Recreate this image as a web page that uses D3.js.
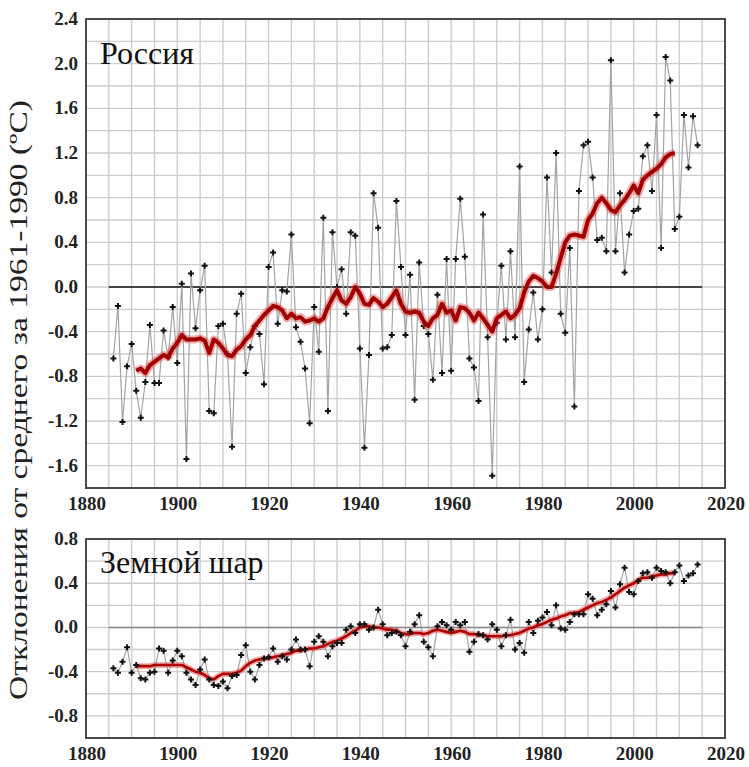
<!DOCTYPE html>
<html>
<head>
<meta charset="utf-8">
<script src="https://cdn.jsdelivr.net/npm/d3@7"></script>
<style>
  body { margin: 0; background: #fff; }
  svg { display: block; }
  .serif { font-family: "Liberation Serif", "Times New Roman", Times, "DejaVu Serif", serif; }
</style>
</head>
<body>
<div id="chart"></div>
<script>
// Годовые аномалии температуры, Россия, 1886-2014
const russiaStart = 1886;
const russiaValues = [
  -0.64, -0.17, -1.21, -0.71, -0.51, -0.93, -1.17, -0.85, -0.34, -0.86,
  -0.86, -0.39, -0.63, -0.18, -0.68, 0.03, -1.54, 0.12, -0.37, -0.03,
  0.19, -1.11, -1.13, -0.35, -0.33, -0.60, -1.43, -0.24, -0.06, -0.77,
  -0.54, -0.35, -0.42, -0.87, 0.18, 0.31, -0.33, -0.03, -0.04, 0.47,
  -0.36, -0.49, -0.73, -1.22, -0.18, -0.58, 0.62, -1.11, 0.49, 0.00,
  0.16, -0.24, 0.49, 0.46, -0.55, -1.44, -0.61, 0.84, 0.53, -0.55,
  -0.54, -0.43, 0.77, 0.18, -0.43, 0.11, -1.01, 0.22, -0.35, -0.42,
  -0.83, -0.07, -0.77, 0.25, -0.75, 0.25, 0.79, 0.27, -0.64, -0.72,
  -1.02, 0.65, -0.45, -1.69, -0.32, 0.19, -0.47, 0.32, -0.45, 1.08,
  -0.85, -0.38, -0.05, -0.47, -0.20, 0.98, 0.13, 1.20, -0.24, -0.41,
  0.35, -1.07, 0.86, 1.27, 1.30, 0.98, 0.42, 0.44, 0.32, 2.03,
  0.32, 0.84, 0.13, 0.47, 0.68, 0.70, 1.17, 1.27, 0.86, 1.54,
  0.35, 2.06, 1.85, 0.52, 0.63, 1.54, 1.07, 1.53, 1.27
];

// Сглаженная кривая, Россия, 1891-2009
const russiaSmoothStart = 1891;
const russiaSmooth = [
  -0.75, -0.73, -0.77, -0.70, -0.67, -0.64, -0.61, -0.63, -0.55, -0.50,
  -0.43, -0.47, -0.47, -0.47, -0.46, -0.48, -0.59, -0.47, -0.50, -0.55,
  -0.61, -0.62, -0.56, -0.53, -0.47, -0.43, -0.35, -0.30, -0.25, -0.21,
  -0.17, -0.18, -0.21, -0.28, -0.24, -0.28, -0.27, -0.31, -0.30, -0.28,
  -0.31, -0.28, -0.18, -0.10, -0.03, -0.12, -0.15, -0.09, 0.00, -0.06,
  -0.15, -0.16, -0.10, -0.13, -0.18, -0.15, -0.09, -0.03, -0.15, -0.22,
  -0.23, -0.22, -0.23, -0.31, -0.35, -0.28, -0.25, -0.15, -0.23, -0.21,
  -0.30, -0.18, -0.19, -0.23, -0.30, -0.23, -0.28, -0.34, -0.40, -0.28,
  -0.25, -0.22, -0.28, -0.25, -0.19, -0.05, 0.05, 0.10, 0.08, 0.05,
  0.00, 0.00, 0.12, 0.26, 0.40, 0.46, 0.47, 0.46, 0.45, 0.60,
  0.66, 0.75, 0.80, 0.75, 0.69, 0.67, 0.73, 0.78, 0.84, 0.91,
  0.84, 0.96, 1.00, 1.03, 1.06, 1.10, 1.16, 1.19, 1.20
];

// Годовые аномалии, земной шар, 1886-2014
const globeStart = 1886;
const globeValues = [
  -0.37, -0.41, -0.31, -0.18, -0.41, -0.34, -0.46, -0.47, -0.41, -0.40,
  -0.19, -0.21, -0.41, -0.30, -0.21, -0.26, -0.41, -0.47, -0.52, -0.38,
  -0.29, -0.47, -0.52, -0.53, -0.49, -0.55, -0.44, -0.43, -0.25, -0.16,
  -0.40, -0.47, -0.34, -0.28, -0.27, -0.19, -0.31, -0.26, -0.29, -0.20,
  -0.11, -0.20, -0.20, -0.35, -0.13, -0.08, -0.13, -0.26, -0.17, -0.14,
  -0.14, -0.02, 0.01, -0.05, 0.03, 0.03, -0.02, 0.00, 0.16, 0.03,
  -0.07, -0.05, -0.04, -0.07, -0.17, -0.04, 0.03, 0.11, -0.13, -0.18,
  -0.26, 0.01, 0.05, 0.02, -0.02, 0.05, 0.02, 0.05, -0.22, -0.13,
  -0.06, -0.07, -0.11, 0.03, -0.02, -0.17, -0.07, 0.07, -0.20, -0.14,
  -0.23, 0.05, -0.05, 0.06, 0.09, 0.14, 0.02, 0.20, -0.01, -0.02,
  0.05, 0.12, 0.12, 0.12, 0.30, 0.26, 0.11, 0.16, 0.21, 0.33,
  0.18, 0.39, 0.54, 0.32, 0.30, 0.42, 0.49, 0.50, 0.45, 0.54,
  0.51, 0.50, 0.40, 0.50, 0.56, 0.42, 0.47, 0.49, 0.57
];

// Сглаженная кривая, земной шар, 1891-2009
const globeSmoothStart = 1891;
const globeSmooth = [
  -0.35, -0.35, -0.35, -0.35, -0.34, -0.34, -0.34, -0.34, -0.34, -0.34,
  -0.34, -0.36, -0.38, -0.40, -0.41, -0.43, -0.46, -0.47, -0.44, -0.42,
  -0.42, -0.42, -0.41, -0.39, -0.35, -0.32, -0.30, -0.29, -0.28, -0.28,
  -0.27, -0.26, -0.25, -0.24, -0.23, -0.21, -0.21, -0.20, -0.19, -0.19,
  -0.18, -0.17, -0.15, -0.13, -0.12, -0.10, -0.08, -0.05, -0.03, 0.00,
  0.01, 0.01, 0.00, 0.00, -0.01, -0.02, -0.02, -0.03, -0.05, -0.06,
  -0.06, -0.05, -0.05, -0.06, -0.05, -0.03, -0.02, -0.03, -0.04, -0.05,
  -0.04, -0.03, -0.04, -0.06, -0.06, -0.07, -0.07, -0.08, -0.08, -0.08,
  -0.08, -0.07, -0.07, -0.06, -0.05, -0.03, -0.01, 0.00, 0.02, 0.03,
  0.05, 0.07, 0.08, 0.10, 0.11, 0.13, 0.13, 0.14, 0.16, 0.18,
  0.20, 0.22, 0.23, 0.25, 0.27, 0.30, 0.33, 0.36, 0.38, 0.40,
  0.43, 0.45, 0.45, 0.46, 0.47, 0.48, 0.48, 0.49, 0.49
];

const xTicks = [1880, 1900, 1920, 1940, 1960, 1980, 2000, 2020];
const russiaTicks = [-1.6, -1.2, -0.8, -0.4, 0.0, 0.4, 0.8, 1.2, 1.6, 2.0, 2.4];
const globeTicks = [-0.8, -0.4, 0.0, 0.4, 0.8];

const toPoints = (start, values) => values.map((v, i) => ({ year: start + i, value: v }));

const width = 749, height = 767;
const svg = d3.select("#chart").append("svg")
  .attr("width", width)
  .attr("height", height);

const marker = d3.symbol(d3.symbolCross, 20);

const drawPanel = (opts) => {
  const x = d3.scaleLinear().domain([1880, 2020]).range([86, 725]);
  const y = d3.scaleLinear().domain(opts.domain).range([opts.bottom, opts.top]);
  const g = svg.append("g");

  // сетка
  g.selectAll(".vgrid")
    .data(d3.range(1885, 2020, 5))
    .join("line")
    .attr("x1", d => x(d)).attr("x2", d => x(d))
    .attr("y1", opts.top).attr("y2", opts.bottom)
    .attr("stroke", "#cdcdcd").attr("stroke-width", 1.4);

  g.selectAll(".hgrid")
    .data(d3.range(Math.round(opts.domain[0] * 5) + 1, Math.round(opts.domain[1] * 5)).map(k => k / 5))
    .join("line")
    .attr("x1", 86).attr("x2", 725)
    .attr("y1", d => y(d)).attr("y2", d => y(d))
    .attr("stroke", "#cdcdcd").attr("stroke-width", 1.4);

  // нулевая линия
  g.append("line")
    .attr("x1", x(1885)).attr("x2", x(2015))
    .attr("y1", y(0)).attr("y2", y(0))
    .attr("stroke", opts.zeroColor).attr("stroke-width", opts.zeroWidth);

  const line = d3.line().x(d => x(d.year)).y(d => y(d.value));
  const annual = toPoints(opts.start, opts.values);
  const smooth = toPoints(opts.smoothStart, opts.smooth);

  g.append("path")
    .datum(annual)
    .attr("d", line)
    .attr("fill", "none")
    .attr("stroke", "#a4a4a4")
    .attr("stroke-width", 1.2);

  const drawSmooth = () => {
    g.append("path")
      .datum(smooth)
      .attr("d", line)
      .attr("fill", "none")
      .attr("stroke", "#e04848")
      .attr("stroke-opacity", 0.45)
      .attr("stroke-width", opts.glowWidth)
      .attr("stroke-linejoin", "round");
    g.append("path")
      .datum(smooth)
      .attr("d", line)
      .attr("fill", "none")
      .attr("stroke", opts.redColor)
      .attr("stroke-width", opts.redWidth)
      .attr("stroke-linejoin", "round");
  };

  const drawPoints = () => {
    g.selectAll(".pt").data(annual).join("path")
      .attr("class", "pt")
      .attr("d", marker)
      .attr("transform", d => `translate(${x(d.year)},${y(d.value)})`)
      .attr("fill", "#111");
  };

  if (opts.redOnTop) {
    drawPoints();
    drawSmooth();
  } else {
    drawSmooth();
    drawPoints();
  }

  // рамка
  g.append("rect")
    .attr("x", 86).attr("y", opts.top)
    .attr("width", 725 - 86).attr("height", opts.bottom - opts.top)
    .attr("fill", "none")
    .attr("stroke", "#4a4a4a")
    .attr("stroke-width", 2);

  // подписи осей
  g.selectAll(".ytick")
    .data(opts.ticks)
    .join("text")
    .attr("class", "serif")
    .attr("x", 78)
    .attr("y", d => y(d) + 6)
    .attr("text-anchor", "end")
    .style("font-weight", "bold")
    .style("font-size", "19px")
    .style("fill", "#222")
    .text(d => d3.format(".1f")(d).replace("−", "-"));

  g.selectAll(".xtick")
    .data(xTicks)
    .join("text")
    .attr("class", "serif")
    .attr("x", d => x(d) + 1)
    .attr("y", opts.bottom + 22)
    .attr("text-anchor", "middle")
    .style("font-weight", "bold")
    .style("font-size", "19px")
    .style("fill", "#222")
    .text(d => d);

  g.append("text")
    .attr("class", "serif")
    .attr("x", 100)
    .attr("y", opts.titleY)
    .style("font-size", "32px")
    .style("fill", "#111")
    .text(opts.title);
};

drawPanel({
  title: "Россия",
  titleY: 64,
  top: 19, bottom: 488,
  domain: [-1.8, 2.4],
  ticks: russiaTicks,
  start: russiaStart, values: russiaValues,
  smoothStart: russiaSmoothStart, smooth: russiaSmooth,
  zeroColor: "#111", zeroWidth: 1.6,
  redColor: "#a00000", redWidth: 4, glowWidth: 8,
  redOnTop: true
});

drawPanel({
  title: "Земной шар",
  titleY: 573,
  top: 539, bottom: 738,
  domain: [-1.0, 0.8],
  ticks: globeTicks,
  start: globeStart, values: globeValues,
  smoothStart: globeSmoothStart, smooth: globeSmooth,
  zeroColor: "#8a8a8a", zeroWidth: 1.4,
  redColor: "#b00000", redWidth: 2.6, glowWidth: 6,
  redOnTop: false
});

// подпись оси Y
svg.append("text")
  .attr("class", "serif")
  .attr("transform", "translate(27,400) rotate(-90)")
  .attr("text-anchor", "middle")
  .attr("textLength", 600)
  .attr("lengthAdjust", "spacingAndGlyphs")
  .style("font-size", "25px")
  .style("fill", "#222")
  .text("Отклонения от среднего за 1961-1990 (ºC)");
</script>
</body>
</html>
